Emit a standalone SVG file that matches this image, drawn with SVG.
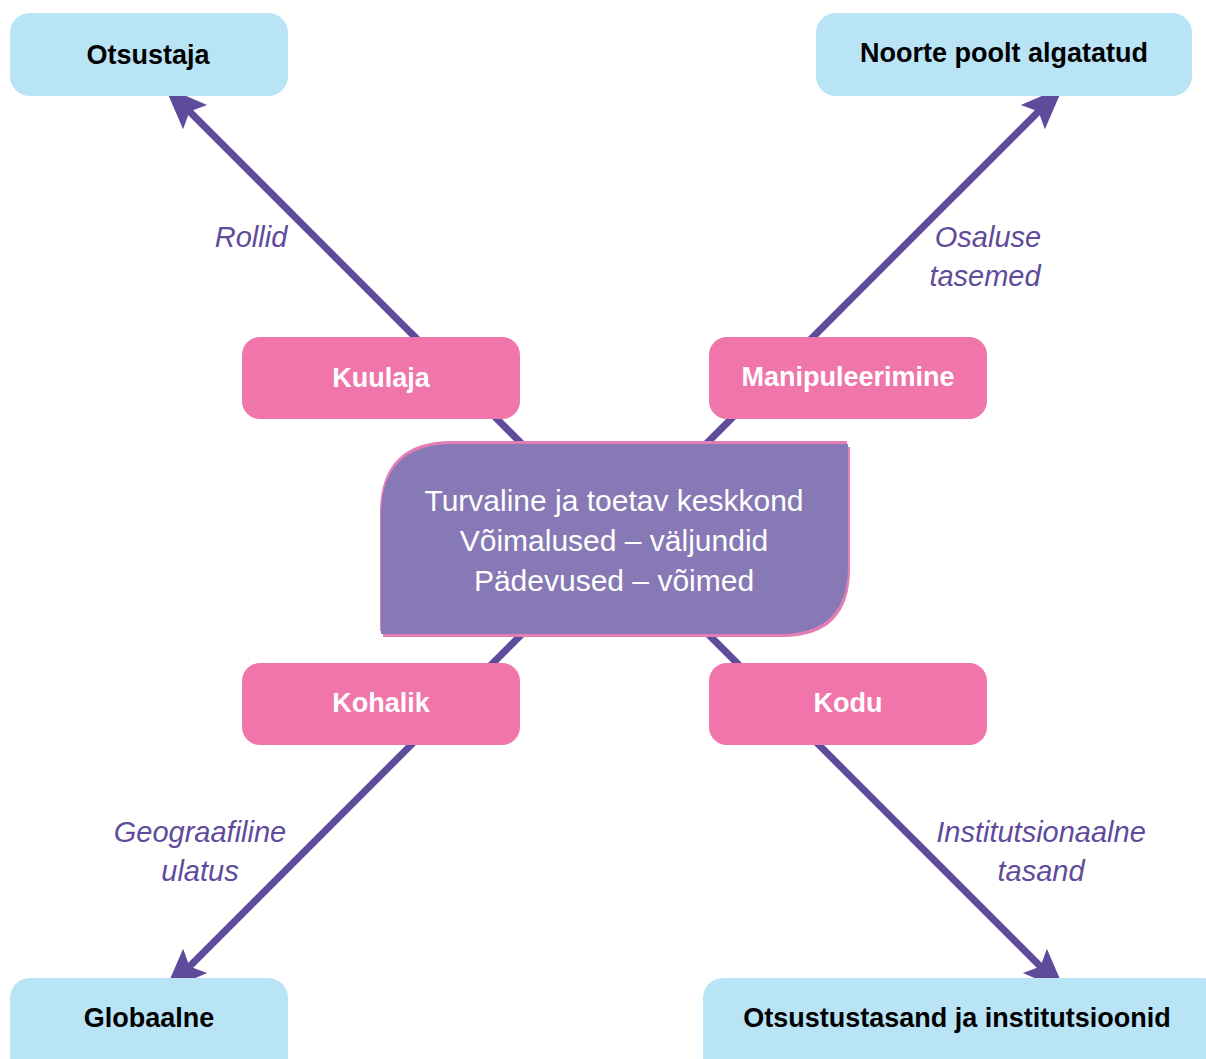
<svg xmlns="http://www.w3.org/2000/svg" width="1206" height="1059" viewBox="0 0 1206 1059">
<style>
.blue{fill:#B8E4F6}
.pink{fill:#F075AA}
.bt{font-family:"Liberation Sans",Arial,sans-serif;font-weight:bold;font-size:27px;fill:#000;text-anchor:middle}
.wt{font-family:"Liberation Sans",Arial,sans-serif;font-weight:bold;font-size:27px;fill:#fff;text-anchor:middle}
.ct{font-family:"Liberation Sans",Arial,sans-serif;font-size:30px;fill:#fff;text-anchor:middle}
.lb{font-family:"Liberation Sans",Arial,sans-serif;font-style:italic;font-size:29px;fill:#5F4B9B;text-anchor:middle}
.ln{stroke:#5F4B9B;stroke-width:7;fill:none;marker-end:url(#ah)}
</style>
<defs>
<marker id="ah" markerUnits="userSpaceOnUse" viewBox="0 -20 46 40" refX="20" refY="0" markerWidth="46" markerHeight="40" orient="auto">
<path d="M0,-17 L43,0 L0,17 L8,0 Z" fill="#5F4B9B"/>
</marker>
<path id="cshape" d="M453,444 H848 V566 Q848,634 780,634 H381 V516 Q381,444 453,444 Z"/>
</defs>
<rect width="1206" height="1059" fill="#fff"/>
<g id="connectors">
<line class="ln" x1="540" y1="462" x2="181" y2="103"/>
<line class="ln" x1="690" y1="460" x2="1047" y2="103"/>
<line class="ln" x1="540" y1="616" x2="181" y2="975"/>
<line class="ln" x1="690" y1="616" x2="1049" y2="975"/>
</g>
<g id="otsustaja"><rect class="blue" x="10" y="13" width="278" height="83" rx="20"/><text class="bt" x="148" y="64">Otsustaja</text></g>
<g id="noorte"><rect class="blue" x="816" y="13" width="376" height="83" rx="20"/><text class="bt" x="1004" y="62">Noorte poolt algatatud</text></g>
<g id="globaalne"><rect class="blue" x="10" y="978" width="278" height="100" rx="20"/><text class="bt" x="149" y="1027">Globaalne</text></g>
<g id="otsustustasand"><rect class="blue" x="703" y="978" width="520" height="100" rx="20"/><text class="bt" x="957" y="1027">Otsustustasand ja institutsioonid</text></g>
<g id="kuulaja"><rect class="pink" x="242" y="337" width="278" height="82" rx="18"/><text class="wt" x="381" y="387">Kuulaja</text></g>
<g id="manipuleerimine"><rect class="pink" x="709" y="337" width="278" height="82" rx="18"/><text class="wt" x="848" y="386">Manipuleerimine</text></g>
<g id="kohalik"><rect class="pink" x="242" y="663" width="278" height="82" rx="18"/><text class="wt" x="381" y="712">Kohalik</text></g>
<g id="kodu"><rect class="pink" x="709" y="663" width="278" height="82" rx="18"/><text class="wt" x="848" y="712">Kodu</text></g>
<g id="center">
<use href="#cshape" fill="#E37DB5" transform="translate(-1,-3)"/>
<use href="#cshape" fill="#E37DB5" transform="translate(2,3)"/>
<use href="#cshape" fill="#8779B5"/>
<text class="ct" x="614" y="511">Turvaline ja toetav keskkond</text>
<text class="ct" x="614" y="551">Võimalused – väljundid</text>
<text class="ct" x="614" y="591">Pädevused – võimed</text>
</g>
<g id="labels">
<text class="lb" x="251" y="247">Rollid</text>
<text class="lb" x="988" y="247">Osaluse</text>
<text class="lb" x="985" y="286">tasemed</text>
<text class="lb" x="200" y="842">Geograafiline</text>
<text class="lb" x="200" y="881">ulatus</text>
<text class="lb" x="1041" y="842">Institutsionaalne</text>
<text class="lb" x="1041" y="881">tasand</text>
</g>
</svg>
